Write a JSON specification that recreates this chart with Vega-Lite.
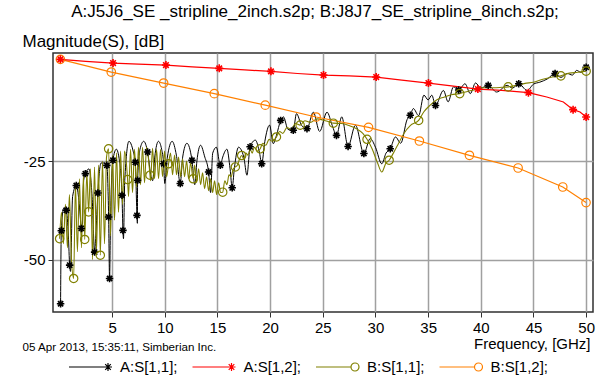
{
"$schema": "https://vega.github.io/schema/vega-lite/v6.json",
"width": 540, "height": 259,
"autosize": {"type": "none"},
"padding": {"left": 53, "top": 53, "right": 12, "bottom": 64},
"background": "white",
"config": {
 "font": "Liberation Sans",
 "view": {"stroke": "#303030", "strokeWidth": 1.5},
 "axis": {"labelFontSize": 15, "titleFontSize": 15, "labelColor": "black", "titleColor": "black", "titleFontWeight": "normal", "gridColor": "#a0a0a0", "gridWidth": 1.5, "gridOpacity": 1, "tickColor": "#303030", "tickSize": 5, "domain": false},
 "legend": {"labelFontSize": 15, "labelColor": "black"}
},
"title": {"text": "A:J5J6_SE _stripline_2inch.s2p; B:J8J7_SE_stripline_8inch.s2p;", "anchor": "middle", "frame": "group", "fontSize": 17, "fontWeight": "normal", "baseline": "alphabetic", "offset": -2, "dx": -8, "color": "black"},
"datasets": {
 "curves": [
  {"s":"A:S[1,1];","f":0.11,"db":-61.2},{"s":"A:S[1,1];","f":0.14,"db":-50},{"s":"A:S[1,1];","f":0.18,"db":-42.7},{"s":"A:S[1,1];","f":0.40,"db":-37},{"s":"A:S[1,1];","f":0.65,"db":-37.5},{"s":"A:S[1,1];","f":0.85,"db":-44},{"s":"A:S[1,1];","f":0.97,"db":-51.4},{"s":"A:S[1,1];","f":1.05,"db":-53},{"s":"A:S[1,1];","f":1.25,"db":-34},{"s":"A:S[1,1];","f":1.60,"db":-31.2},{"s":"A:S[1,1];","f":1.85,"db":-35},{"s":"A:S[1,1];","f":2.08,"db":-42.1},{"s":"A:S[1,1];","f":2.15,"db":-43},{"s":"A:S[1,1];","f":2.30,"db":-30},{"s":"A:S[1,1];","f":2.46,"db":-28.2},{"s":"A:S[1,1];","f":2.80,"db":-27},{"s":"A:S[1,1];","f":3.10,"db":-34},{"s":"A:S[1,1];","f":3.34,"db":-48.1},{"s":"A:S[1,1];","f":3.45,"db":-44},{"s":"A:S[1,1];","f":3.65,"db":-33.1},{"s":"A:S[1,1];","f":3.95,"db":-25.5},{"s":"A:S[1,1];","f":4.30,"db":-25.5},{"s":"A:S[1,1];","f":4.50,"db":-26.1},{"s":"A:S[1,1];","f":4.67,"db":-39.2},{"s":"A:S[1,1];","f":4.76,"db":-54.8},{"s":"A:S[1,1];","f":4.85,"db":-40},{"s":"A:S[1,1];","f":5.08,"db":-24.8},{"s":"A:S[1,1];","f":5.40,"db":-22},{"s":"A:S[1,1];","f":5.70,"db":-25},{"s":"A:S[1,1];","f":5.94,"db":-33.7},{"s":"A:S[1,1];","f":6.03,"db":-42.6},{"s":"A:S[1,1];","f":6.08,"db":-44.7},{"s":"A:S[1,1];","f":6.20,"db":-30},{"s":"A:S[1,1];","f":6.60,"db":-20},{"s":"A:S[1,1];","f":7.00,"db":-22.5},{"s":"A:S[1,1];","f":7.20,"db":-25.3},{"s":"A:S[1,1];","f":7.36,"db":-38.8},{"s":"A:S[1,1];","f":7.40,"db":-40.8},{"s":"A:S[1,1];","f":7.42,"db":-29.9},{"s":"A:S[1,1];","f":7.65,"db":-22},{"s":"A:S[1,1];","f":8.00,"db":-20},{"s":"A:S[1,1];","f":8.37,"db":-22.7},{"s":"A:S[1,1];","f":8.70,"db":-29},{"s":"A:S[1,1];","f":8.85,"db":-30},{"s":"A:S[1,1];","f":9.05,"db":-24},{"s":"A:S[1,1];","f":9.40,"db":-20},{"s":"A:S[1,1];","f":9.70,"db":-22},{"s":"A:S[1,1];","f":9.89,"db":-25.7},{"s":"A:S[1,1];","f":10.00,"db":-30.7},{"s":"A:S[1,1];","f":10.25,"db":-24},{"s":"A:S[1,1];","f":10.70,"db":-20},{"s":"A:S[1,1];","f":11.10,"db":-23.5},{"s":"A:S[1,1];","f":11.47,"db":-30.7},{"s":"A:S[1,1];","f":11.70,"db":-24},{"s":"A:S[1,1];","f":12.10,"db":-20.5},{"s":"A:S[1,1];","f":12.58,"db":-24.8},{"s":"A:S[1,1];","f":12.85,"db":-31},{"s":"A:S[1,1];","f":13.05,"db":-25},{"s":"A:S[1,1];","f":13.40,"db":-21},{"s":"A:S[1,1];","f":13.80,"db":-24},{"s":"A:S[1,1];","f":14.16,"db":-27.8},{"s":"A:S[1,1];","f":14.35,"db":-33},{"s":"A:S[1,1];","f":14.55,"db":-23},{"s":"A:S[1,1];","f":14.90,"db":-21.5},{"s":"A:S[1,1];","f":15.27,"db":-26.1},{"s":"A:S[1,1];","f":15.50,"db":-24},{"s":"A:S[1,1];","f":15.90,"db":-22},{"s":"A:S[1,1];","f":16.20,"db":-27},{"s":"A:S[1,1];","f":16.40,"db":-31.8},{"s":"A:S[1,1];","f":16.60,"db":-27},{"s":"A:S[1,1];","f":17.00,"db":-21.5},{"s":"A:S[1,1];","f":17.50,"db":-24},{"s":"A:S[1,1];","f":17.80,"db":-28.6},{"s":"A:S[1,1];","f":18.10,"db":-21.4},{"s":"A:S[1,1];","f":18.60,"db":-19.7},{"s":"A:S[1,1];","f":19.00,"db":-23},{"s":"A:S[1,1];","f":19.20,"db":-25.7},{"s":"A:S[1,1];","f":19.50,"db":-20},{"s":"A:S[1,1];","f":19.95,"db":-15.9},{"s":"A:S[1,1];","f":20.30,"db":-20.6},{"s":"A:S[1,1];","f":20.60,"db":-18.5},{"s":"A:S[1,1];","f":21.00,"db":-14.7},{"s":"A:S[1,1];","f":21.27,"db":-13.8},{"s":"A:S[1,1];","f":21.70,"db":-17},{"s":"A:S[1,1];","f":22.20,"db":-17.2},{"s":"A:S[1,1];","f":22.50,"db":-13.0},{"s":"A:S[1,1];","f":23.00,"db":-16},{"s":"A:S[1,1];","f":23.50,"db":-16.8},{"s":"A:S[1,1];","f":24.10,"db":-12.6},{"s":"A:S[1,1];","f":24.70,"db":-17.5},{"s":"A:S[1,1];","f":25.40,"db":-12.6},{"s":"A:S[1,1];","f":25.90,"db":-16},{"s":"A:S[1,1];","f":26.30,"db":-18.5},{"s":"A:S[1,1];","f":26.80,"db":-13.8},{"s":"A:S[1,1];","f":27.40,"db":-21.3},{"s":"A:S[1,1];","f":28.10,"db":-15.9},{"s":"A:S[1,1];","f":28.90,"db":-23.1},{"s":"A:S[1,1];","f":29.50,"db":-19.3},{"s":"A:S[1,1];","f":30.00,"db":-21.5},{"s":"A:S[1,1];","f":30.60,"db":-25.7},{"s":"A:S[1,1];","f":31.00,"db":-23},{"s":"A:S[1,1];","f":31.40,"db":-21.9},{"s":"A:S[1,1];","f":31.90,"db":-18.9},{"s":"A:S[1,1];","f":32.40,"db":-20.5},{"s":"A:S[1,1];","f":33.00,"db":-14.5},{"s":"A:S[1,1];","f":33.30,"db":-13.4},{"s":"A:S[1,1];","f":33.60,"db":-11.7},{"s":"A:S[1,1];","f":34.10,"db":-13.5},{"s":"A:S[1,1];","f":34.60,"db":-8.3},{"s":"A:S[1,1];","f":35.00,"db":-9.5},{"s":"A:S[1,1];","f":35.35,"db":-8.3},{"s":"A:S[1,1];","f":35.70,"db":-10.9},{"s":"A:S[1,1];","f":36.45,"db":-7.1},{"s":"A:S[1,1];","f":36.90,"db":-10},{"s":"A:S[1,1];","f":37.40,"db":-6.2},{"s":"A:S[1,1];","f":37.90,"db":-7.0},{"s":"A:S[1,1];","f":38.50,"db":-5.4},{"s":"A:S[1,1];","f":39.00,"db":-7.9},{"s":"A:S[1,1];","f":39.50,"db":-5.2},{"s":"A:S[1,1];","f":40.00,"db":-6.5},{"s":"A:S[1,1];","f":40.70,"db":-5.8},{"s":"A:S[1,1];","f":41.50,"db":-7.5},{"s":"A:S[1,1];","f":42.50,"db":-5.8},{"s":"A:S[1,1];","f":43.00,"db":-6.5},{"s":"A:S[1,1];","f":43.60,"db":-5.4},{"s":"A:S[1,1];","f":44.40,"db":-7.1},{"s":"A:S[1,1];","f":45.00,"db":-5.5},{"s":"A:S[1,1];","f":45.60,"db":-5.0},{"s":"A:S[1,1];","f":46.30,"db":-4.2},{"s":"A:S[1,1];","f":47.05,"db":-2.8},{"s":"A:S[1,1];","f":47.60,"db":-3.8},{"s":"A:S[1,1];","f":48.20,"db":-2.8},{"s":"A:S[1,1];","f":48.70,"db":-3.2},{"s":"A:S[1,1];","f":49.10,"db":-2.0},{"s":"A:S[1,1];","f":49.50,"db":-2.5},{"s":"A:S[1,1];","f":50.00,"db":-1.2},

  {"s":"B:S[1,1];","f":0.02,"db":-44.7},{"s":"B:S[1,1];","f":0.19,"db":-38},{"s":"B:S[1,1];","f":0.38,"db":-46},{"s":"B:S[1,1];","f":0.57,"db":-36},{"s":"B:S[1,1];","f":0.76,"db":-47},{"s":"B:S[1,1];","f":0.95,"db":-33.5},{"s":"B:S[1,1];","f":1.14,"db":-50},{"s":"B:S[1,1];","f":1.35,"db":-54.8},{"s":"B:S[1,1];","f":1.52,"db":-31},{"s":"B:S[1,1];","f":1.71,"db":-48},{"s":"B:S[1,1];","f":1.90,"db":-29.5},{"s":"B:S[1,1];","f":2.09,"db":-47},{"s":"B:S[1,1];","f":2.28,"db":-28.5},{"s":"B:S[1,1];","f":2.40,"db":-44.9},{"s":"B:S[1,1];","f":2.60,"db":-28},{"s":"B:S[1,1];","f":2.77,"db":-37.9},{"s":"B:S[1,1];","f":2.95,"db":-27},{"s":"B:S[1,1];","f":3.14,"db":-50},{"s":"B:S[1,1];","f":3.33,"db":-26.5},{"s":"B:S[1,1];","f":3.52,"db":-48},{"s":"B:S[1,1];","f":3.71,"db":-26},{"s":"B:S[1,1];","f":3.88,"db":-48.9},{"s":"B:S[1,1];","f":4.09,"db":-25},{"s":"B:S[1,1];","f":4.28,"db":-46},{"s":"B:S[1,1];","f":4.47,"db":-24},{"s":"B:S[1,1];","f":4.67,"db":-21.9},{"s":"B:S[1,1];","f":4.85,"db":-44},{"s":"B:S[1,1];","f":5.04,"db":-23.5},{"s":"B:S[1,1];","f":5.23,"db":-40},{"s":"B:S[1,1];","f":5.42,"db":-23},{"s":"B:S[1,1];","f":5.61,"db":-38},{"s":"B:S[1,1];","f":5.80,"db":-22.5},{"s":"B:S[1,1];","f":5.99,"db":-36},{"s":"B:S[1,1];","f":6.18,"db":-22.5},{"s":"B:S[1,1];","f":6.47,"db":-29.7},{"s":"B:S[1,1];","f":6.56,"db":-34},{"s":"B:S[1,1];","f":6.75,"db":-22},{"s":"B:S[1,1];","f":6.94,"db":-33},{"s":"B:S[1,1];","f":7.13,"db":-22},{"s":"B:S[1,1];","f":7.32,"db":-31.5},{"s":"B:S[1,1];","f":7.51,"db":-21.5},{"s":"B:S[1,1];","f":7.70,"db":-31},{"s":"B:S[1,1];","f":7.89,"db":-21.5},{"s":"B:S[1,1];","f":8.08,"db":-30.5},{"s":"B:S[1,1];","f":8.27,"db":-21.5},{"s":"B:S[1,1];","f":8.60,"db":-28.6},{"s":"B:S[1,1];","f":8.65,"db":-30},{"s":"B:S[1,1];","f":8.84,"db":-21.8},{"s":"B:S[1,1];","f":9.03,"db":-29.5},{"s":"B:S[1,1];","f":9.22,"db":-22},{"s":"B:S[1,1];","f":9.41,"db":-29.5},{"s":"B:S[1,1];","f":9.60,"db":-22},{"s":"B:S[1,1];","f":9.79,"db":-29},{"s":"B:S[1,1];","f":9.98,"db":-22.5},{"s":"B:S[1,1];","f":10.17,"db":-29},{"s":"B:S[1,1];","f":10.36,"db":-25.7},{"s":"B:S[1,1];","f":10.55,"db":-23},{"s":"B:S[1,1];","f":10.74,"db":-28.5},{"s":"B:S[1,1];","f":10.93,"db":-23.5},{"s":"B:S[1,1];","f":11.12,"db":-28.5},{"s":"B:S[1,1];","f":11.31,"db":-24},{"s":"B:S[1,1];","f":11.50,"db":-29},{"s":"B:S[1,1];","f":11.69,"db":-24.5},{"s":"B:S[1,1];","f":11.88,"db":-29},{"s":"B:S[1,1];","f":12.07,"db":-25},{"s":"B:S[1,1];","f":12.26,"db":-29.5},{"s":"B:S[1,1];","f":12.45,"db":-25.5},{"s":"B:S[1,1];","f":12.70,"db":-29.5},{"s":"B:S[1,1];","f":12.83,"db":-26},{"s":"B:S[1,1];","f":13.02,"db":-30.5},{"s":"B:S[1,1];","f":13.21,"db":-27},{"s":"B:S[1,1];","f":13.40,"db":-31},{"s":"B:S[1,1];","f":13.59,"db":-28},{"s":"B:S[1,1];","f":13.78,"db":-32},{"s":"B:S[1,1];","f":13.97,"db":-29},{"s":"B:S[1,1];","f":14.16,"db":-32.5},{"s":"B:S[1,1];","f":14.35,"db":-29.5},{"s":"B:S[1,1];","f":14.54,"db":-33},{"s":"B:S[1,1];","f":14.73,"db":-30},{"s":"B:S[1,1];","f":14.92,"db":-33.5},{"s":"B:S[1,1];","f":15.11,"db":-30.5},{"s":"B:S[1,1];","f":15.30,"db":-33},{"s":"B:S[1,1];","f":15.50,"db":-32.9},{"s":"B:S[1,1];","f":15.70,"db":-30},{"s":"B:S[1,1];","f":15.90,"db":-31},{"s":"B:S[1,1];","f":16.10,"db":-28.5},{"s":"B:S[1,1];","f":16.30,"db":-29},{"s":"B:S[1,1];","f":16.50,"db":-27},{"s":"B:S[1,1];","f":16.70,"db":-26.5},{"s":"B:S[1,1];","f":16.90,"db":-26},{"s":"B:S[1,1];","f":17.10,"db":-24.5},{"s":"B:S[1,1];","f":17.30,"db":-23.6},{"s":"B:S[1,1];","f":17.50,"db":-24.5},{"s":"B:S[1,1];","f":17.70,"db":-23},{"s":"B:S[1,1];","f":17.90,"db":-23.5},{"s":"B:S[1,1];","f":18.10,"db":-22},{"s":"B:S[1,1];","f":18.30,"db":-23},{"s":"B:S[1,1];","f":18.50,"db":-21.5},{"s":"B:S[1,1];","f":18.80,"db":-22.5},{"s":"B:S[1,1];","f":19.06,"db":-21.9},{"s":"B:S[1,1];","f":19.30,"db":-20.5},{"s":"B:S[1,1];","f":19.60,"db":-21},{"s":"B:S[1,1];","f":19.90,"db":-19.5},{"s":"B:S[1,1];","f":20.20,"db":-20},{"s":"B:S[1,1];","f":20.60,"db":-18.9},{"s":"B:S[1,1];","f":20.90,"db":-17.5},{"s":"B:S[1,1];","f":21.20,"db":-18},{"s":"B:S[1,1];","f":21.60,"db":-16.5},{"s":"B:S[1,1];","f":22.00,"db":-17},{"s":"B:S[1,1];","f":22.40,"db":-15.5},{"s":"B:S[1,1];","f":22.85,"db":-15.9},{"s":"B:S[1,1];","f":23.30,"db":-14.8},{"s":"B:S[1,1];","f":23.80,"db":-15.2},{"s":"B:S[1,1];","f":24.50,"db":-14.3},{"s":"B:S[1,1];","f":25.00,"db":-14.6},{"s":"B:S[1,1];","f":25.50,"db":-15},{"s":"B:S[1,1];","f":26.00,"db":-15.4},{"s":"B:S[1,1];","f":26.80,"db":-15.5},{"s":"B:S[1,1];","f":27.50,"db":-16},{"s":"B:S[1,1];","f":28.20,"db":-16.8},{"s":"B:S[1,1];","f":28.80,"db":-18},{"s":"B:S[1,1];","f":29.20,"db":-19.5},{"s":"B:S[1,1];","f":29.70,"db":-22},{"s":"B:S[1,1];","f":30.20,"db":-25.5},{"s":"B:S[1,1];","f":30.60,"db":-27.8},{"s":"B:S[1,1];","f":31.00,"db":-25.5},{"s":"B:S[1,1];","f":31.30,"db":-24.8},{"s":"B:S[1,1];","f":31.70,"db":-23},{"s":"B:S[1,1];","f":32.20,"db":-20.5},{"s":"B:S[1,1];","f":32.70,"db":-18},{"s":"B:S[1,1];","f":33.30,"db":-16},{"s":"B:S[1,1];","f":34.10,"db":-14.7},{"s":"B:S[1,1];","f":34.60,"db":-12.5},{"s":"B:S[1,1];","f":35.20,"db":-10.8},{"s":"B:S[1,1];","f":35.80,"db":-9.5},{"s":"B:S[1,1];","f":36.50,"db":-8.8},{"s":"B:S[1,1];","f":37.20,"db":-8.2},{"s":"B:S[1,1];","f":38.00,"db":-7.9},{"s":"B:S[1,1];","f":38.80,"db":-7.3},{"s":"B:S[1,1];","f":39.50,"db":-6.9},{"s":"B:S[1,1];","f":40.30,"db":-6.4},{"s":"B:S[1,1];","f":41.20,"db":-6.4},{"s":"B:S[1,1];","f":42.00,"db":-6.3},{"s":"B:S[1,1];","f":42.60,"db":-6.2},{"s":"B:S[1,1];","f":43.40,"db":-5.8},{"s":"B:S[1,1];","f":44.20,"db":-5.3},{"s":"B:S[1,1];","f":45.00,"db":-5},{"s":"B:S[1,1];","f":45.80,"db":-4.3},{"s":"B:S[1,1];","f":46.60,"db":-3.8},{"s":"B:S[1,1];","f":47.60,"db":-3.4},{"s":"B:S[1,1];","f":48.40,"db":-2.7},{"s":"B:S[1,1];","f":49.20,"db":-2.5},{"s":"B:S[1,1];","f":50.00,"db":-2.2},

  {"s":"A:S[1,2];","f":0.09,"db":0.79},{"s":"A:S[1,2];","f":2.5,"db":0.3},{"s":"A:S[1,2];","f":5.09,"db":-0.15},{"s":"A:S[1,2];","f":7.5,"db":-0.4},{"s":"A:S[1,2];","f":10.11,"db":-0.66},{"s":"A:S[1,2];","f":12.6,"db":-1.1},{"s":"A:S[1,2];","f":15.17,"db":-1.5},{"s":"A:S[1,2];","f":17.6,"db":-1.9},{"s":"A:S[1,2];","f":20.08,"db":-2.26},{"s":"A:S[1,2];","f":22.6,"db":-2.8},{"s":"A:S[1,2];","f":25.07,"db":-3.19},{"s":"A:S[1,2];","f":27.5,"db":-3.4},{"s":"A:S[1,2];","f":30.07,"db":-3.7},{"s":"A:S[1,2];","f":32.5,"db":-4.5},{"s":"A:S[1,2];","f":35.03,"db":-5.22},{"s":"A:S[1,2];","f":37.4,"db":-6.0},{"s":"A:S[1,2];","f":39.72,"db":-6.74},{"s":"A:S[1,2];","f":42.0,"db":-7.1},{"s":"A:S[1,2];","f":44.52,"db":-7.66},{"s":"A:S[1,2];","f":45.31,"db":-8.17},{"s":"A:S[1,2];","f":46.26,"db":-8.77},{"s":"A:S[1,2];","f":47.84,"db":-10.04},{"s":"A:S[1,2];","f":48.76,"db":-11.97},{"s":"A:S[1,2];","f":49.42,"db":-12.58},{"s":"A:S[1,2];","f":50.0,"db":-13.84},

  {"s":"B:S[1,2];","f":0.09,"db":0.79},{"s":"B:S[1,2];","f":4.92,"db":-2.43},{"s":"B:S[1,2];","f":9.89,"db":-5.22},{"s":"B:S[1,2];","f":14.70,"db":-7.91},{"s":"B:S[1,2];","f":19.54,"db":-10.83},{"s":"B:S[1,2];","f":24.37,"db":-13.84},{"s":"B:S[1,2];","f":29.34,"db":-16.46},{"s":"B:S[1,2];","f":34.17,"db":-19.93},{"s":"B:S[1,2];","f":38.92,"db":-23.55},{"s":"B:S[1,2];","f":43.54,"db":-26.77},{"s":"B:S[1,2];","f":47.78,"db":-31.59},{"s":"B:S[1,2];","f":49.99,"db":-35.55}
 ],
 "markers": [
  {"s":"A:S[1,1];","f":0.11,"db":-61.2},{"s":"A:S[1,1];","f":0.18,"db":-42.7},{"s":"A:S[1,1];","f":0.65,"db":-37.5},{"s":"A:S[1,1];","f":0.97,"db":-51.4},{"s":"A:S[1,1];","f":1.60,"db":-31.2},{"s":"A:S[1,1];","f":2.08,"db":-42.1},{"s":"A:S[1,1];","f":2.46,"db":-28.2},{"s":"A:S[1,1];","f":3.34,"db":-48.1},{"s":"A:S[1,1];","f":3.65,"db":-33.1},{"s":"A:S[1,1];","f":4.50,"db":-26.1},{"s":"A:S[1,1];","f":4.67,"db":-39.2},{"s":"A:S[1,1];","f":4.76,"db":-54.8},{"s":"A:S[1,1];","f":5.08,"db":-24.8},{"s":"A:S[1,1];","f":5.94,"db":-33.7},{"s":"A:S[1,1];","f":6.03,"db":-42.6},{"s":"A:S[1,1];","f":7.20,"db":-25.3},{"s":"A:S[1,1];","f":7.36,"db":-38.8},{"s":"A:S[1,1];","f":7.42,"db":-29.9},{"s":"A:S[1,1];","f":8.37,"db":-22.7},{"s":"A:S[1,1];","f":9.89,"db":-25.7},{"s":"A:S[1,1];","f":11.47,"db":-30.7},{"s":"A:S[1,1];","f":12.58,"db":-24.8},{"s":"A:S[1,1];","f":14.16,"db":-27.8},{"s":"A:S[1,1];","f":15.27,"db":-26.1},{"s":"A:S[1,1];","f":16.40,"db":-31.8},{"s":"A:S[1,1];","f":18.10,"db":-21.4},{"s":"A:S[1,1];","f":19.20,"db":-25.7},{"s":"A:S[1,1];","f":21.00,"db":-14.7},{"s":"A:S[1,1];","f":22.20,"db":-17.2},{"s":"A:S[1,1];","f":23.50,"db":-16.8},{"s":"A:S[1,1];","f":26.30,"db":-18.5},{"s":"A:S[1,1];","f":27.40,"db":-21.3},{"s":"A:S[1,1];","f":28.90,"db":-23.1},{"s":"A:S[1,1];","f":31.40,"db":-21.9},{"s":"A:S[1,1];","f":33.30,"db":-13.4},{"s":"A:S[1,1];","f":35.70,"db":-10.9},{"s":"A:S[1,1];","f":37.90,"db":-7.0},{"s":"A:S[1,1];","f":40.70,"db":-5.8},{"s":"A:S[1,1];","f":43.60,"db":-5.4},{"s":"A:S[1,1];","f":47.05,"db":-2.8},{"s":"A:S[1,1];","f":50.00,"db":-1.2},
  {"s":"B:S[1,1];","f":0.02,"db":-44.7},{"s":"B:S[1,1];","f":1.35,"db":-54.8},{"s":"B:S[1,1];","f":2.40,"db":-44.9},{"s":"B:S[1,1];","f":2.77,"db":-37.9},{"s":"B:S[1,1];","f":3.88,"db":-48.9},{"s":"B:S[1,1];","f":4.67,"db":-21.9},{"s":"B:S[1,1];","f":6.47,"db":-29.7},{"s":"B:S[1,1];","f":8.60,"db":-28.6},{"s":"B:S[1,1];","f":10.36,"db":-25.7},{"s":"B:S[1,1];","f":12.70,"db":-29.5},{"s":"B:S[1,1];","f":15.50,"db":-32.9},{"s":"B:S[1,1];","f":16.70,"db":-26.5},{"s":"B:S[1,1];","f":17.30,"db":-23.6},{"s":"B:S[1,1];","f":19.06,"db":-21.9},{"s":"B:S[1,1];","f":20.60,"db":-18.9},{"s":"B:S[1,1];","f":22.85,"db":-15.9},{"s":"B:S[1,1];","f":26.00,"db":-15.4},{"s":"B:S[1,1];","f":29.20,"db":-19.5},{"s":"B:S[1,1];","f":31.30,"db":-24.8},{"s":"B:S[1,1];","f":34.10,"db":-14.7},{"s":"B:S[1,1];","f":38.00,"db":-7.9},{"s":"B:S[1,1];","f":42.60,"db":-6.2},{"s":"B:S[1,1];","f":47.60,"db":-3.4},{"s":"B:S[1,1];","f":50.00,"db":-2.2},
  {"s":"B:S[1,2];","f":0.09,"db":0.79},{"s":"B:S[1,2];","f":4.92,"db":-2.43},{"s":"B:S[1,2];","f":9.89,"db":-5.22},{"s":"B:S[1,2];","f":14.70,"db":-7.91},{"s":"B:S[1,2];","f":19.54,"db":-10.83},{"s":"B:S[1,2];","f":24.37,"db":-13.84},{"s":"B:S[1,2];","f":29.34,"db":-16.46},{"s":"B:S[1,2];","f":34.17,"db":-19.93},{"s":"B:S[1,2];","f":38.92,"db":-23.55},{"s":"B:S[1,2];","f":43.54,"db":-26.77},{"s":"B:S[1,2];","f":47.78,"db":-31.59},{"s":"B:S[1,2];","f":49.99,"db":-35.55},
  {"s":"A:S[1,2];","f":0.09,"db":0.79},{"s":"A:S[1,2];","f":5.09,"db":-0.15},{"s":"A:S[1,2];","f":10.11,"db":-0.66},{"s":"A:S[1,2];","f":15.17,"db":-1.5},{"s":"A:S[1,2];","f":20.08,"db":-2.26},{"s":"A:S[1,2];","f":25.07,"db":-3.19},{"s":"A:S[1,2];","f":30.07,"db":-3.7},{"s":"A:S[1,2];","f":35.03,"db":-5.22},{"s":"A:S[1,2];","f":39.72,"db":-6.74},{"s":"A:S[1,2];","f":44.52,"db":-7.66},{"s":"A:S[1,2];","f":48.76,"db":-11.97},{"s":"A:S[1,2];","f":50.0,"db":-13.84}
 ]
},
"encoding": {
 "x": {"field": "f", "type": "quantitative", "scale": {"domain": [-0.61, 50.65], "nice": false, "zero": false},
   "axis": {"values": [5,10,15,20,25,30,35,40,45,50], "labelPadding": 3, "labelFlush": false, "labelOverlap": false, "title": "Frequency, [GHz]", "titleX": 537, "titleY": 36, "titleAlign": "right", "titleBaseline": "alphabetic", "titleAnchor": null}},
 "y": {"field": "db", "type": "quantitative", "scale": {"domain": [-63.3, 2.4], "nice": false, "zero": false},
   "axis": {"values": [-25, -50], "labelExpr": "'' + datum.value", "labelPadding": 3, "title": "Magnitude(S), [dB]", "titleFontSize": 17, "titleAngle": 0, "titleX": -31, "titleY": -7, "titleAlign": "left", "titleBaseline": "alphabetic", "titleAnchor": null}},
 "color": {"field": "s", "type": "nominal",
   "scale": {"domain": ["A:S[1,1];", "A:S[1,2];", "B:S[1,1];", "B:S[1,2];"], "range": ["#000000", "#ff0000", "#808000", "#ff8000"]},
   "legend": {"title": null, "orient": "none", "legendX": 15, "legendY": 293, "direction": "horizontal", "columns": 4, "columnPadding": 11.5, "symbolSize": 1600, "labelOffset": 10, "labelFontSize": 15, "symbolStrokeWidth": 1.2,
     "encode": {"symbols": {"update": {"fill": {"value": "transparent"}, "shape": {"signal": "indexof(['A:S[1,1];','A:S[1,2];'], datum.value) >= 0 ? 'M-1,0L1.15,0M0.95,-0.2L0.95,0.2M0.81,-0.14L1.09,0.14M0.81,0.14L1.09,-0.14' : 'M-1,0L0.75,0M1.15,0A0.2,0.2 0 1,1 0.75,0A0.2,0.2 0 1,1 1.15,0'"}}}}}}
},
"layer": [
 {"layer": [
   {"data": {"name": "curves"}, "transform": [{"filter": "datum.s == 'A:S[1,1];'"}], "mark": {"type": "line", "interpolate": "monotone", "strokeWidth": 1, "clip": true}},
   {"data": {"name": "curves"}, "transform": [{"filter": "datum.s == 'B:S[1,1];'"}], "mark": {"type": "line", "interpolate": "monotone", "strokeWidth": 1.1, "clip": true}},
   {"data": {"name": "curves"}, "transform": [{"filter": "datum.s == 'B:S[1,2];'"}], "mark": {"type": "line", "strokeWidth": 1.2, "clip": true}},
   {"data": {"name": "curves"}, "transform": [{"filter": "datum.s == 'A:S[1,2];'"}], "mark": {"type": "line", "strokeWidth": 1.2, "clip": true}},
   {"data": {"name": "markers"}, "transform": [{"filter": "datum.s == 'A:S[1,1];'"}], "mark": {"type": "point", "shape": "M-1,0L1,0M0,-1L0,1M-0.7,-0.7L0.7,0.7M-0.7,0.7L0.7,-0.7", "size": 56, "strokeWidth": 1.6, "filled": false, "opacity": 1, "clip": true}},
   {"data": {"name": "markers"}, "transform": [{"filter": "datum.s == 'B:S[1,1];'"}], "mark": {"type": "point", "shape": "circle", "size": 70, "strokeWidth": 1.2, "filled": false, "opacity": 1, "clip": true}},
   {"data": {"name": "markers"}, "transform": [{"filter": "datum.s == 'B:S[1,2];'"}], "mark": {"type": "point", "shape": "circle", "size": 72, "strokeWidth": 1.2, "filled": false, "opacity": 1, "clip": true}}
 ]},
 {"data": {"name": "markers"}, "transform": [{"filter": "datum.s == 'A:S[1,2];'"}], "mark": {"type": "point", "shape": "M-1,0L1,0M0,-1L0,1M-0.7,-0.7L0.7,0.7M-0.7,0.7L0.7,-0.7", "size": 64, "strokeWidth": 1.6, "filled": false, "opacity": 1, "clip": true},
  "encoding": {"x": {"field": "f", "type": "quantitative", "scale": {"domain": [-0.61, 50.65], "nice": false, "zero": false},
    "axis": {"orient": "top", "labels": false, "ticks": false, "domain": false, "grid": false, "title": "05 Apr 2013, 15:35:11, Simberian Inc.", "titleFontSize": 11.6, "titleX": -31, "titleY": 297, "titleAlign": "left", "titleBaseline": "alphabetic", "titleAngle": 0, "titleAnchor": null}}}}
],
"resolve": {"axis": {"x": "independent"}}
}
